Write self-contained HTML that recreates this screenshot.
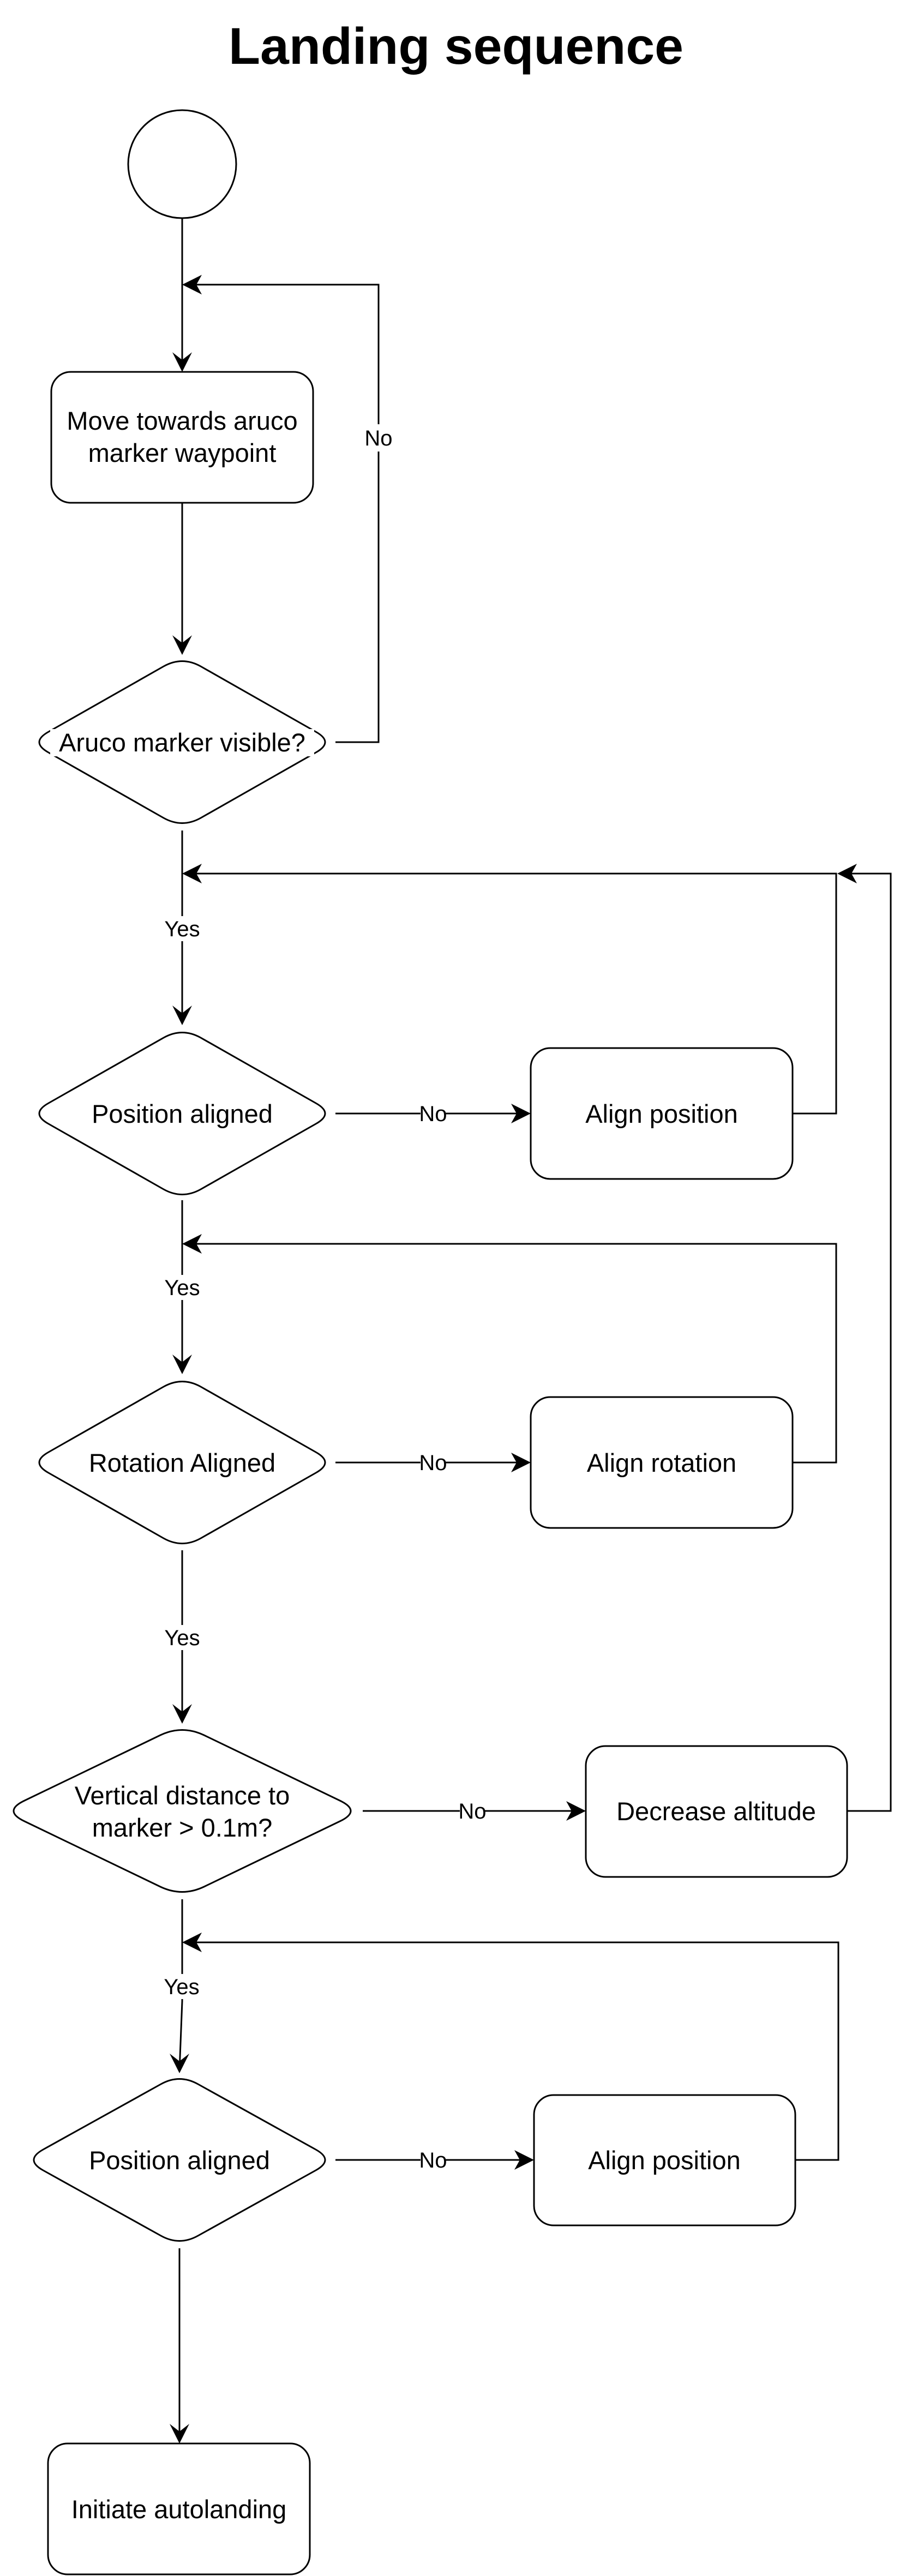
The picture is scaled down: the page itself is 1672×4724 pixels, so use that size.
<!DOCTYPE html>
<html><head><meta charset="utf-8"><style>
html,body{margin:0;padding:0;background:#fff}
svg{display:block}
text{font-family:"Liberation Sans",Arial,sans-serif;fill:#000}
</style></head><body>
<svg width="1672" height="4724" viewBox="0 0 1672 4724" xmlns="http://www.w3.org/2000/svg">
<rect width="1672" height="4724" fill="#fff"/>
<text x="836" y="117" font-size="95" font-weight="bold" text-anchor="middle">Landing sequence</text>

<g fill="none" stroke="#000" stroke-width="3">
<circle cx="334" cy="301" r="99"/>
<rect x="94" y="682" width="480" height="240" rx="36"/>
<rect x="973" y="1922" width="480" height="240" rx="36"/>
<rect x="973" y="2562" width="480" height="240" rx="36"/>
<rect x="1074" y="3202" width="479" height="240" rx="36"/>
<rect x="979" y="3842" width="479" height="239" rx="36"/>
<rect x="88" y="4481" width="480" height="240" rx="36"/>
<path d="M300,1222 Q334,1203 368,1222 L579,1342 Q613,1361 579,1380 L368,1500 Q334,1519 300,1500 L89,1380 Q55,1361 89,1342 Z"/>
<path d="M300,1903 Q334,1884 368,1903 L579,2023 Q613,2042 579,2061 L368,2181 Q334,2200 300,2181 L89,2061 Q55,2042 89,2023 Z"/>
<path d="M300,2543 Q334,2524 368,2543 L579,2663 Q613,2682 579,2701 L368,2821 Q334,2840 300,2821 L89,2701 Q55,2682 89,2663 Z"/>
<path d="M294,3182 Q334,3163 374,3182 L623,3302 Q663,3321 623,3340 L374,3460 Q334,3479 294,3460 L45,3340 Q5,3321 45,3302 Z"/>
<path d="M295,3822 Q329,3803 363,3822 L579,3942 Q613,3961 579,3980 L363,4100 Q329,4119 295,4100 L79,3980 Q45,3961 79,3942 Z"/>

<path d="M334,400 V665"/>
<path d="M615,1361 H694 V522 H355"/>
<path d="M334,922 V1185"/>
<path d="M334,1523 V1860"/>
<path d="M1453,2042 H1533 V1602 H355"/>
<path d="M1553,3321 H1633 V1602 H1555"/>
<path d="M615,2042 H955"/>
<path d="M334,2201 V2500"/>
<path d="M1453,2682 H1533 V2281 H355"/>
<path d="M615,2682 H955"/>
<path d="M334,2843 V3140"/>
<path d="M665,3321 H1055"/>
<path d="M334,3483 V3670 L329.5,3785"/>
<path d="M1458,3961 H1537 V3562 H355"/>
<path d="M615,3961 H960"/>
<path d="M329,4123 V4462"/>
</g>

<g fill="#000">
<polygon points="334,682 316,646 334,660 352,646"/>
<polygon points="334,522 370,504 360,522 370,540"/>
<polygon points="334,1201 316,1165 334,1179 352,1165"/>
<polygon points="334,1880 316,1844 334,1858 352,1844"/>
<polygon points="334,1602 370,1584 360,1602 370,1620"/>
<polygon points="1535,1602 1571,1584 1561,1602 1571,1620"/>
<polygon points="973,2042 937,2024 947,2042 937,2060"/>
<polygon points="334,2520 316,2484 334,2498 352,2484"/>
<polygon points="334,2281 370,2263 360,2281 370,2299"/>
<polygon points="973,2682 937,2664 947,2682 937,2700"/>
<polygon points="334,3161 316,3125 334,3139 352,3125"/>
<polygon points="1074,3321 1038,3303 1048,3321 1038,3339"/>
<polygon points="329,3802 311,3766 329,3780 347,3766"/>
<polygon points="334,3562 370,3544 360,3562 370,3580"/>
<polygon points="979,3961 943,3943 953,3961 943,3979"/>
<polygon points="329,4481 311,4445 329,4459 347,4445"/>
</g>

<g fill="#fff">
<rect x="676" y="778" width="36" height="50"/>
<rect x="312" y="1680" width="44" height="46"/>
<rect x="312" y="2338" width="44" height="46"/>
<rect x="312" y="2980" width="44" height="46"/>
<rect x="312" y="3620" width="44" height="46"/>
<rect x="771" y="2022" width="46" height="40"/>
<rect x="771" y="2662" width="46" height="40"/>
<rect x="843" y="3301" width="46" height="40"/>
<rect x="771" y="3941" width="46" height="40"/>
<rect x="92" y="1337" width="484" height="50"/>
</g>

<g font-size="40" text-anchor="middle">
<text x="694" y="817">No</text>
<text x="334" y="1717">Yes</text>
<text x="334" y="2375">Yes</text>
<text x="334" y="3017">Yes</text>
<text x="333" y="3657">Yes</text>
<text x="794" y="2056">No</text>
<text x="794" y="2696">No</text>
<text x="866" y="3335">No</text>
<text x="794" y="3975">No</text>
</g>

<g font-size="47" text-anchor="middle">
<text x="334" y="788">Move towards aruco</text>
<text x="334" y="847">marker waypoint</text>
<text x="334" y="1378">Aruco marker visible?</text>
<text x="334" y="2059">Position aligned</text>
<text x="1213" y="2059">Align position</text>
<text x="334" y="2699">Rotation Aligned</text>
<text x="1213" y="2699">Align rotation</text>
<text x="334" y="3309">Vertical distance to</text>
<text x="334" y="3368">marker &gt; 0.1m?</text>
<text x="1313" y="3338">Decrease altitude</text>
<text x="329" y="3978">Position aligned</text>
<text x="1218" y="3978">Align position</text>
<text x="328" y="4618">Initiate autolanding</text>
</g>
</svg>
</body></html>
